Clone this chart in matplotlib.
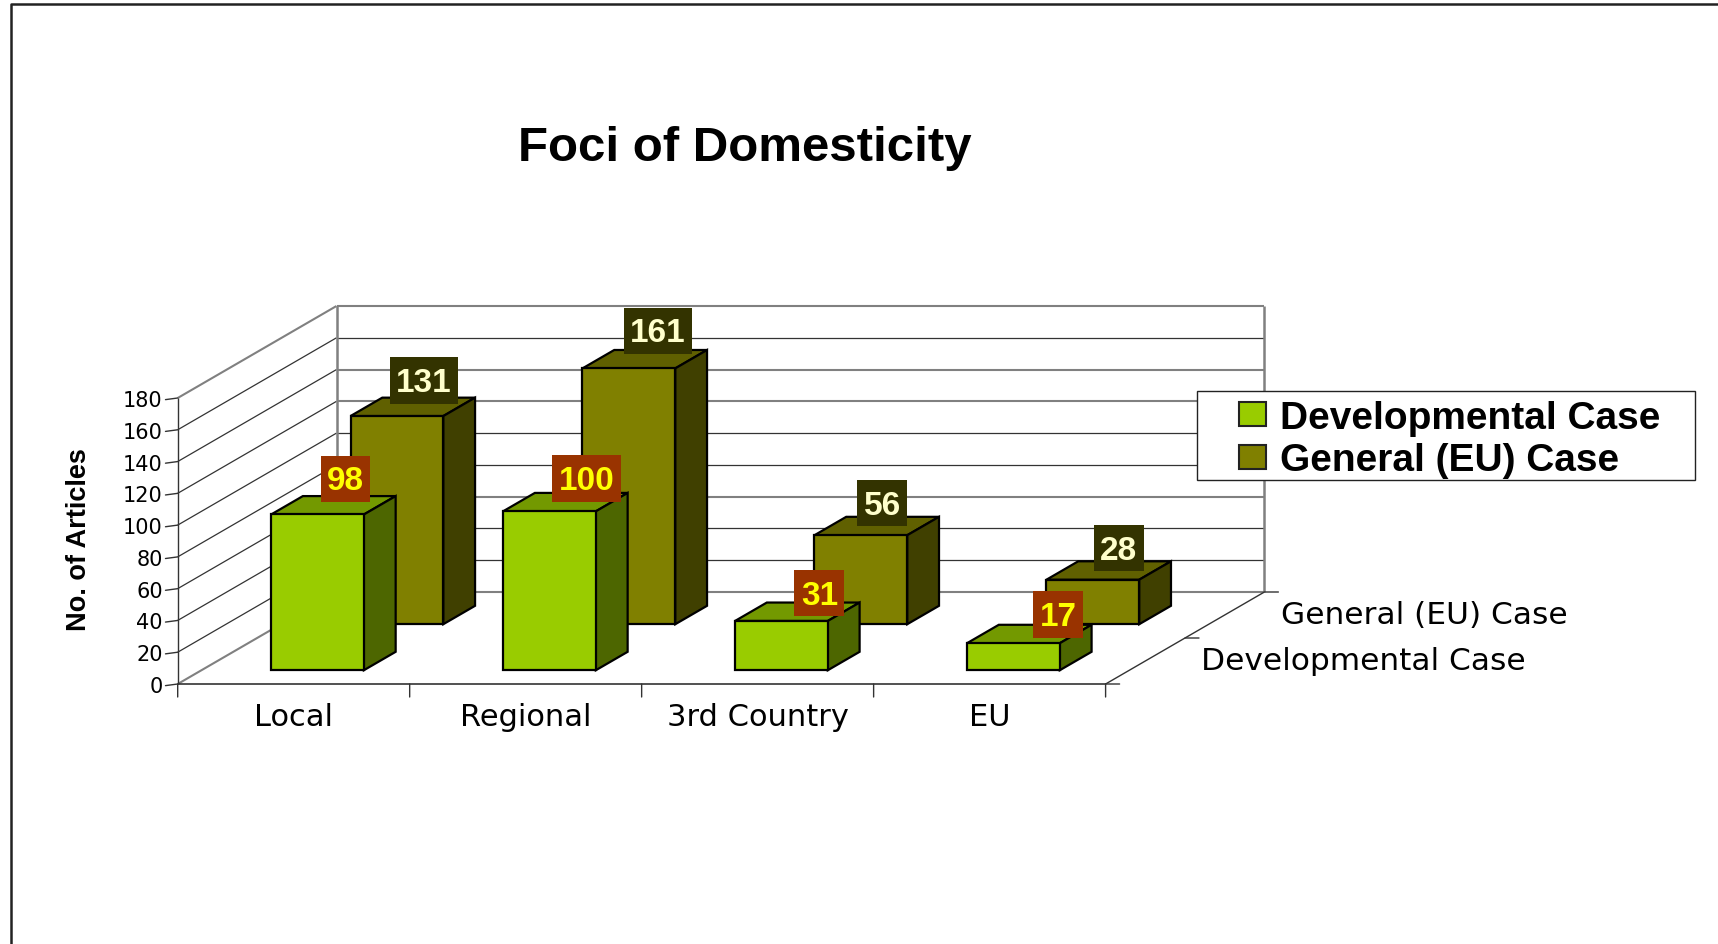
import matplotlib
matplotlib.use("Agg")
import matplotlib.pyplot as plt
from matplotlib.patches import Patch, Polygon, Rectangle
from matplotlib.path import Path

plt.rcParams["font.family"] = ["Liberation Sans", "DejaVu Sans"]

categories = ["Local", "Regional", "3rd Country", "EU"]
series_names = ["Developmental Case", "General (EU) Case"]
developmental = [98, 100, 31, 17]
general = [131, 161, 56, 28]
y_ticks = [0, 20, 40, 60, 80, 100, 120, 140, 160, 180]
gray_back_lines = [0, 60, 120, 140, 180]

# label boxes sit a little differently on each bar (px from the top centre)
dev_label_nudge = [(12, 28), (21, 25), (22, 20), (29, 21)]
gen_label_nudge = [(11, 28), (13, 30), (5.5, 24.5), (10, 24)]

W, H = 1718, 945
# pixel position of the front plane of the 3d box
X0, Y0 = 177.7, 685.0
UX = (1105.6 - X0) / 4      # px per category
UY = (Y0 - 399.0) / 180     # px per article
DX = 158.8 / UX             # depth shift, in data units
DY = 92.0 / UY

BAR_LEFT, BAR_W = 0.3, 0.4
BAR_DEPTH = 0.2
GRAY = "#808080"
DARK = "#333333"
WIDE_FONT = "DejaVu Sans"   # the reference text is stretched sideways


def proj(x, v, t):
    """Front plane data coordinates for a point at depth t (0 front, 1 back)."""
    return x + t * DX, v + t * DY


def line(ax, p, q, color=DARK, lw=1.0, z=1):
    ax.plot([p[0], q[0]], [p[1], q[1]], color=color, lw=lw, zorder=z, solid_capstyle="butt")


def draw_bar(ax, x, value, t, front, top, side, z):
    x1 = x + BAR_W
    t2 = t + BAR_DEPTH
    faces = [
        ([proj(x, value, t), proj(x, value, t2), proj(x1, value, t2), proj(x1, value, t)], top),
        ([proj(x1, 0, t), proj(x1, 0, t2), proj(x1, value, t2), proj(x1, value, t)], side),
        ([proj(x, 0, t), proj(x1, 0, t), proj(x1, value, t), proj(x, value, t)], front),
    ]
    for pts, color in faces:
        ax.add_patch(Polygon(pts, closed=True, facecolor=color, edgecolor="black", lw=1.6, zorder=z))


def label_box(x0, y0, w, h, mutation_size):
    # data labels have more padding above than at the sides
    px = 0.19 * mutation_size
    x1, y1 = x0 + w + px, y0 + h + 0.29 * mutation_size
    x0, y0 = x0 - px, y0 - 0.17 * mutation_size
    return Path([(x0, y0), (x1, y0), (x1, y1), (x0, y1), (x0, y0)], closed=True)


fig = plt.figure(figsize=(W / 100, H / 100), dpi=100)
ax = fig.add_axes([0, 0, 1, 1])
ax.set_xlim(-X0 / UX, (W - X0) / UX)
ax.set_ylim((Y0 - H) / UY, Y0 / UY)
ax.axis("off")

# outer frame, cut off by the image on the right and at the bottom
ax.plot([10.5 / W, 10.5 / W, 1], [0, 1 - 4.5 / H, 1 - 4.5 / H], color="#222222", lw=1.8,
        transform=ax.transAxes, zorder=1)

# walls and floor
for v in y_ticks:
    back_color = GRAY if v in gray_back_lines else DARK
    side_color = GRAY if v in (0, 180) else DARK
    side_lw = 1.5 if v in (0, 180) else 0.9
    back_lw = 1.5 if v in gray_back_lines else 0.9
    line(ax, proj(0, v, 0), proj(0, v, 1), side_color, side_lw)
    line(ax, proj(0, v, 1), proj(4, v, 1), back_color, back_lw)
    ax.annotate(str(v), xy=(0, v), xytext=(-15, 0), textcoords="offset pixels", ha="right",
                va="center_baseline", fontsize=15, family=WIDE_FONT, color="black", zorder=3,
                arrowprops=dict(arrowstyle="-", color=DARK, lw=1, shrinkA=0, shrinkB=0, relpos=(1, 0.5)))
line(ax, proj(0, 0, 1), proj(0, 180, 1), GRAY, 1.8)
line(ax, proj(4, 0, 1), proj(4, 180, 1), GRAY, 1.8)
line(ax, proj(0, 0, 0), proj(0, 180, 0), DARK, 1.0, 2)
line(ax, proj(0, 0, 0), proj(4, 0, 0), DARK, 1.2, 2)
line(ax, proj(4, 0, 0), proj(4, 0, 1), DARK, 1.0, 2)

# category axis
for i in range(5):
    ax.annotate("", xy=(i, 0), xytext=(0, -13), textcoords="offset pixels",
                arrowprops=dict(arrowstyle="-", color=DARK, lw=1, shrinkA=0, shrinkB=0))
for i, name in enumerate(categories):
    ax.annotate(name, xy=(i + 0.5, 0), xytext=(0, -29), textcoords="offset pixels", ha="center",
                va="center_baseline", fontsize=22, family=WIDE_FONT)

# depth axis
for t in (0, 0.5, 1):
    ax.annotate("", xy=proj(4, 0, t), xytext=(14, 0), textcoords="offset pixels",
                arrowprops=dict(arrowstyle="-", color=DARK, lw=1, shrinkA=0, shrinkB=0))
for name, t in zip(series_names, (0.25, 0.75)):
    ax.annotate(name, xy=proj(4, 0, t), xytext=(56, 3), textcoords="offset pixels", ha="left",
                va="center_baseline", fontsize=22.5, family=WIDE_FONT)

# bars, the back row first
rows = [
    (general, gen_label_nudge, 0.65, "#808000", "#606000", "#404000", "#333300", "#FFFFCC", 4),
    (developmental, dev_label_nudge, 0.15, "#99CC00", "#739900", "#4D6600", "#993300", "#FFFF00", 6),
]
for values, nudges, t, front, top, side, box, txt, z in rows:
    for i, value in enumerate(values):
        x = i + BAR_LEFT
        draw_bar(ax, x, value, t, front, top, side, z)
    for i, value in enumerate(values):
        x = i + BAR_LEFT
        anchor = proj(x + BAR_W / 2, value, t + BAR_DEPTH / 2)
        ax.annotate(str(value), xy=anchor, xytext=nudges[i], textcoords="offset pixels", ha="center",
                    va="center_baseline", fontsize=24, fontweight="bold", color=txt, zorder=z + 1,
                    bbox=dict(boxstyle=label_box, facecolor=box, edgecolor="none"))

fig.text(745 / W, 1 - 149 / H, "Foci of Domesticity", ha="center", va="center", fontsize=35.5, fontweight="bold")
fig.text(79 / W, 1 - 539.5 / H, "No. of Articles", rotation=90, ha="center", va="center", fontsize=19.5,
         fontweight="bold")

# legend box is wider than it is padded, so it gets its own rectangle
ax.add_patch(Rectangle((1196.5 / W, 1 - 481 / H), 498.5 / W, 89 / H, transform=ax.transAxes, facecolor="white",
                       edgecolor="#222222", lw=1.0, zorder=10))
handles = [Patch(facecolor="#99CC00", edgecolor="#222222", lw=1.5),
           Patch(facecolor="#808000", edgecolor="#222222", lw=1.5)]
leg = ax.legend(handles, series_names, loc="upper left", bbox_to_anchor=(1233 / W, 1 - 395 / H), frameon=False,
                borderaxespad=0, borderpad=0.15, handlelength=0.7, handleheight=0.57, handletextpad=0.36,
                labelspacing=0.17, prop=dict(weight="bold", size=28))
leg.set_zorder(11)

fig.savefig("out.png", dpi=100)
